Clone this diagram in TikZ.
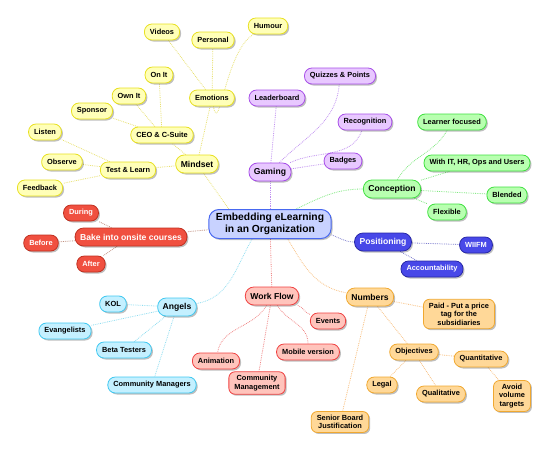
\documentclass[tikz,border=0pt]{standalone}
\usepackage{fontspec}
\setmainfont{Liberation Sans}
\usepackage{tikz}
\usetikzlibrary{positioning, shadows, backgrounds}
\definecolor{ylfill}{HTML}{FFFFB8}
\definecolor{yldraw}{HTML}{E8E020}
\definecolor{yledge}{HTML}{E8E070}
\definecolor{pufill}{HTML}{E8C8FF}
\definecolor{pudraw}{HTML}{A850E8}
\definecolor{puedge}{HTML}{C090F0}
\definecolor{grfill}{HTML}{B8FFB0}
\definecolor{grdraw}{HTML}{40E040}
\definecolor{gredge}{HTML}{80E880}
\definecolor{blfill}{HTML}{4848E8}
\definecolor{bldraw}{HTML}{2828A8}
\definecolor{bledge}{HTML}{8080D0}
\definecolor{orfill}{HTML}{FFD898}
\definecolor{ordraw}{HTML}{F0A830}
\definecolor{oredge}{HTML}{F8C080}
\definecolor{safill}{HTML}{FFC4BC}
\definecolor{sadraw}{HTML}{F04040}
\definecolor{saedge}{HTML}{F08888}
\definecolor{cyfill}{HTML}{C4F0FF}
\definecolor{cydraw}{HTML}{40C8F0}
\definecolor{cyedge}{HTML}{90DDF0}
\definecolor{rdfill}{HTML}{F05040}
\definecolor{rddraw}{HTML}{C03020}
\definecolor{rdedge}{HTML}{C09080}
\definecolor{rtfill}{HTML}{C8D2FF}
\definecolor{rtdraw}{HTML}{4868F0}

\begin{document}
\begin{tikzpicture}[
                x=1pt, y=-1pt,
                leaf/.style={draw, rounded corners=7.5pt, line width=0.8pt, inner xsep=5.5pt, inner ysep=2pt, minimum height=16pt, align=center, font=\fontsize{7.4}{8.5}\selectfont\bfseries, drop shadow={shadow xshift=1.5pt, shadow yshift=-1.5pt, opacity=0.25, fill=black}},
                multi/.style={rounded corners=6pt, inner ysep=3.5pt},
                hub/.style={leaf, rounded corners=8.5pt, minimum height=18pt, inner xsep=5pt, font=\fontsize{8.6}{10}\selectfont\bfseries},
                root/.style={leaf, rounded corners=10pt, line width=1pt, minimum height=29pt, inner xsep=7pt, font=\fontsize{10.3}{12.5}\selectfont\bfseries, fill=rtfill, draw=rtdraw},
                yel/.style={fill=ylfill, draw=yldraw},
                pur/.style={fill=pufill, draw=pudraw},
                gre/.style={fill=grfill, draw=grdraw},
                blu/.style={fill=blfill, draw=bldraw, text=white},
                ora/.style={fill=orfill, draw=ordraw},
                sal/.style={fill=safill, draw=sadraw},
                cya/.style={fill=cyfill, draw=cydraw},
                red/.style={fill=rdfill, draw=rddraw, text=white},
                edge/.style={line width=0.8pt, densely dotted}
            ]
            \useasboundingbox (0,0) rectangle (550,453);

            % Knoten
            \node[root] (Root) at (270,224) {Embedding eLearning\\in an Organization};

            \node[hub, yel] (Mindset) at (197,164) {Mindset};
            \node[leaf, yel] (TestLearn) at (128,170) {Test \& Learn};
            \node[leaf, yel] (Listen) at (45,132) {Listen};
            \node[leaf, yel] (Observe) at (62,162) {Observe};
            \node[leaf, yel] (Feedback) at (40,188) {Feedback};
            \node[leaf, yel] (CEO) at (162,135) {CEO \& C-Suite};
            \node[leaf, yel] (Sponsor) at (92,111) {Sponsor};
            \node[leaf, yel] (OwnIt) at (129,96) {Own It};
            \node[leaf, yel] (OnIt) at (159,75) {On It};
            \node[leaf, yel] (Emotions) at (212,98) {Emotions};
            \node[leaf, yel] (Videos) at (162,32) {Videos};
            \node[leaf, yel] (Personal) at (213,40) {Personal};
            \node[leaf, yel] (Humour) at (268,26) {Humour};

            \node[hub, pur] (Gaming) at (270,172) {Gaming};
            \node[leaf, pur] (Leaderboard) at (277,98) {Leaderboard};
            \node[leaf, pur] (Quizzes) at (340,76) {Quizzes \& Points};
            \node[leaf, pur] (Recognition) at (365,122) {Recognition};
            \node[leaf, pur] (Badges) at (343,161) {Badges};

            \node[hub, gre] (Conception) at (392,189) {Conception};
            \node[leaf, gre] (Learner) at (452,122) {Learner focused};
            \node[leaf, gre] (WithIT) at (477,163) {With IT, HR, Ops and Users};
            \node[leaf, gre] (Blended) at (507,195) {Blended};
            \node[leaf, gre] (Flexible) at (447,212) {Flexible};

            \node[hub, blu] (Positioning) at (383,242) {Positioning};
            \node[leaf, blu] (WIIFM) at (476,245) {WIIFM};
            \node[leaf, blu] (Accountability) at (432,269) {Accountability};

            \node[hub, ora] (Numbers) at (370,297) {Numbers};
            \node[leaf, ora, multi] (Paid) at (459,314) {Paid - Put a price\\tag for the\\subsidiaries};
            \node[leaf, ora] (Objectives) at (414,352) {Objectives};
            \node[leaf, ora] (Quantitative) at (481,359) {Quantitative};
            \node[leaf, ora, multi] (Avoid) at (512,396) {Avoid\\volume\\targets};
            \node[leaf, ora] (Legal) at (382,385) {Legal};
            \node[leaf, ora] (Qualitative) at (441,394) {Qualitative};
            \node[leaf, ora, multi] (Senior) at (340,422) {Senior Board\\Justification};

            \node[hub, sal] (WorkFlow) at (272,296) {Work Flow};
            \node[leaf, sal] (Events) at (328,321) {Events};
            \node[leaf, sal] (Mobile) at (308,352) {Mobile version};
            \node[leaf, sal, multi] (CommMgmt) at (257,383) {Community\\Management};
            \node[leaf, sal] (Animation) at (216,361) {Animation};

            \node[hub, cya] (Angels) at (177,307) {Angels};
            \node[leaf, cya] (KOL) at (113,304) {KOL};
            \node[leaf, cya] (Evangelists) at (65,331) {Evangelists};
            \node[leaf, cya] (Beta) at (124,350) {Beta Testers};
            \node[leaf, cya] (CommMgr) at (152,385) {Community Managers};

            \node[hub, red] (Bake) at (131,237) {Bake into onsite courses};
            \node[leaf, red] (During) at (81,213) {During};
            \node[leaf, red] (Before) at (41,243) {Before};
            \node[leaf, red] (After) at (91,264) {After};

            % Kanten
            \begin{scope}[on background layer]
            \draw[edge, yledge] (Root.160) -- (Mindset);
            \draw[edge, yledge] (Mindset) -- (TestLearn);
            \draw[edge, yledge] (Mindset) -- (CEO);
            \draw[edge, yledge] (Mindset) -- (Emotions);
            \draw[edge, yledge] (TestLearn) -- (Listen);
            \draw[edge, yledge] (TestLearn) -- (Observe);
            \draw[edge, yledge] (TestLearn) -- (Feedback);
            \draw[edge, yledge] (CEO) -- (Sponsor);
            \draw[edge, yledge] (CEO) -- (OwnIt);
            \draw[edge, yledge] (CEO) -- (OnIt);
            \draw[edge, yledge] (Emotions) -- (Videos);
            \draw[edge, yledge] (Emotions) -- (Personal);
            \draw[edge, yledge] (Emotions) to[out=-80, in=-150] (Humour);

            \draw[edge, puedge] (Root) -- (Gaming);
            \draw[edge, puedge] (Gaming) -- (Leaderboard);
            \draw[edge, puedge] (Gaming) to[out=45, in=-95] (Quizzes);
            \draw[edge, puedge] (Gaming) to[out=25, in=-110] (Recognition);
            \draw[edge, puedge] (Gaming) -- (Badges);

            \draw[edge, gredge] (Root.30) to[out=25, in=180] (Conception);
            \draw[edge, gredge] (Conception) to[out=60, in=-120] (Learner);
            \draw[edge, gredge] (Conception) -- (WithIT);
            \draw[edge, gredge] (Conception) -- (Blended);
            \draw[edge, gredge] (Conception) -- (Flexible);

            \draw[edge, bledge] (Root.-10) to[out=-20, in=180] (Positioning);
            \draw[edge, bledge] (Positioning) -- (WIIFM);
            \draw[edge, bledge] (Positioning) -- (Accountability);

            \draw[edge, oredge] (Root.-40) to[out=-60, in=170] (Numbers);
            \draw[edge, oredge] (Numbers) -- (Paid);
            \draw[edge, oredge] (Numbers) -- (Objectives);
            \draw[edge, oredge] (Numbers) -- (Senior);
            \draw[edge, oredge] (Objectives) -- (Quantitative);
            \draw[edge, oredge] (Objectives) -- (Legal);
            \draw[edge, oredge] (Objectives) -- (Qualitative);
            \draw[edge, oredge] (Quantitative) -- (Avoid);

            \draw[edge, saedge] (Root) -- (WorkFlow);
            \draw[edge, saedge] (WorkFlow) to[out=-20, in=160] (Events);
            \draw[edge, saedge] (WorkFlow) to[out=-60, in=90] (Mobile);
            \draw[edge, saedge] (WorkFlow) -- (CommMgmt);
            \draw[edge, saedge] (WorkFlow) to[out=-120, in=80] (Animation);

            \draw[edge, cyedge] (Root.-140) to[out=-120, in=10] (Angels);
            \draw[edge, cyedge] (Angels) -- (KOL);
            \draw[edge, cyedge] (Angels) -- (Evangelists);
            \draw[edge, cyedge] (Angels) -- (Beta);
            \draw[edge, cyedge] (Angels) -- (CommMgr);

            \draw[edge, rdedge] (Root) -- (Bake);
            \draw[edge, rdedge] (Bake) -- (During);
            \draw[edge, rdedge] (Bake) -- (Before);
            \draw[edge, rdedge] (Bake) -- (After);
            \end{scope}

        \end{tikzpicture}
\end{document}
